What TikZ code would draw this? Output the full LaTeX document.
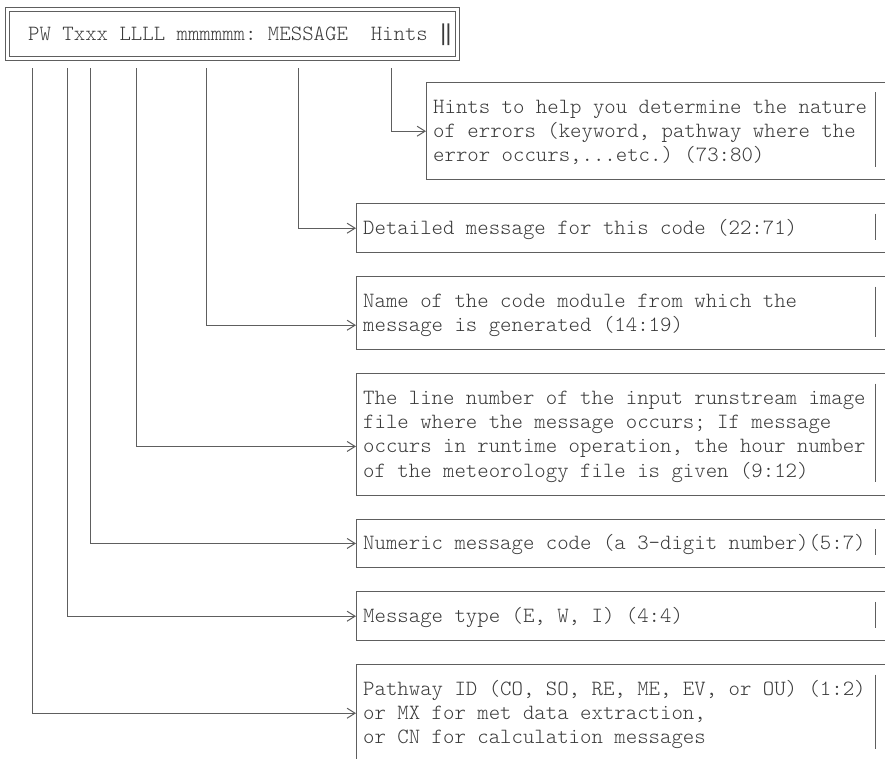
\documentclass[tikz,border=0pt]{standalone}
\usepackage{fontspec}
\setmonofont{lmmonolt10-regular.otf}
\newfontfamily\barfont{DejaVu Sans Mono}
\usetikzlibrary{arrows.meta}
\definecolor{rulegray}{HTML}{5E5E5E}
\definecolor{inkgray}{HTML}{3A3A3A}
\newcommand{\rowst}{\rule[-5.6pt]{0pt}{24.25pt}}

\begin{document}
\begin{tikzpicture}[x=1pt,y=-1pt,
		boxline/.style={draw=rulegray,line width=1pt},
		conn/.style={boxline,-{Straight Barb[length=8pt,width=10pt]}},
		mono/.style={font=\ttfamily\fontsize{21.75}{24.25}\selectfont,text=inkgray},
		descbox/.style={mono,anchor=north west,inner xsep=7pt,inner ysep=0pt,align=left,text width=505pt,
			execute at begin node={\spaceskip=0pt\xspaceskip=0pt}}]
	\useasboundingbox (0,0) rectangle (885,759);
	\clip (0,0) rectangle (885,759);
	
	\draw[boxline,double,double distance=3pt] (7.5,10) rectangle (457,58.25);
	\node[mono,anchor=base west,inner sep=0pt] (hdr) at (28,40.5) {PW Txxx LLLL mmmmmm: MESSAGE~~Hints~{\barfont ‖}};
	
	\node[descbox,text width=435pt,minimum height=97pt] (hint) at (426,82.5) {\rowst Hints to help you determine the nature\\\rowst of errors (keyword, pathway where the\\\rowst error occurs,...etc.) (73:80)};
	\node[descbox,minimum height=48.5pt] (msg) at (356,203.75) {\rowst Detailed message for this code (22:71)};
	\node[descbox,minimum height=72.75pt] (mod) at (356,276.5) {\rowst Name of the code module from which the\\\rowst message is generated (14:19)};
	\node[descbox,minimum height=121.25pt] (lineno) at (356,373.5) {\rowst The line number of the input runstream image\\\rowst file where the message occurs; If message\\\rowst occurs in runtime operation, the hour number\\\rowst of the meteorology file is given (9:12)};
	\node[descbox,minimum height=48.5pt] (code) at (356,519) {\rowst Numeric message code (a 3—digit number)(5:7)};
	\node[descbox,minimum height=48.5pt] (type) at (356,591.75) {\rowst Message type (E, W, I) (4:4)};
	\node[descbox,minimum height=97pt] (pathway) at (356,664.5) {\rowst Pathway ID (CO, SO, RE, ME, EV, or OU) (1:2)\\\rowst or MX for met data extraction,\\\rowst or CN for calculation messages};
	
	\draw[boxline] ([xshift=10pt]hint.north east) -- (hint.north west) -- (hint.south west) -- ([xshift=10pt]hint.south east);
	\draw[boxline] ([yshift=-10pt]hint.north east) -- ([yshift=13pt]hint.south east);
	\draw[boxline] ([xshift=10pt]msg.north east) -- (msg.north west) -- (msg.south west) -- ([xshift=10pt]msg.south east);
	\draw[boxline] ([yshift=-10pt]msg.north east) -- ([yshift=13pt]msg.south east);
	\draw[boxline] ([xshift=10pt]mod.north east) -- (mod.north west) -- (mod.south west) -- ([xshift=10pt]mod.south east);
	\draw[boxline] ([yshift=-10pt]mod.north east) -- ([yshift=13pt]mod.south east);
	\draw[boxline] ([xshift=10pt]lineno.north east) -- (lineno.north west) -- (lineno.south west) -- ([xshift=10pt]lineno.south east);
	\draw[boxline] ([yshift=-10pt]lineno.north east) -- ([yshift=13pt]lineno.south east);
	\draw[boxline] ([xshift=10pt]code.north east) -- (code.north west) -- (code.south west) -- ([xshift=10pt]code.south east);
	\draw[boxline] ([yshift=-10pt]code.north east) -- ([yshift=13pt]code.south east);
	\draw[boxline] ([xshift=10pt]type.north east) -- (type.north west) -- (type.south west) -- ([xshift=10pt]type.south east);
	\draw[boxline] ([yshift=-10pt]type.north east) -- ([yshift=13pt]type.south east);
	\draw[boxline] ([xshift=10pt]pathway.north east) -- (pathway.north west) -- (pathway.south west) -- ([xshift=10pt]pathway.south east);
	\draw[boxline] ([yshift=-10pt]pathway.north east) -- ([yshift=13pt]pathway.south east);
	
	\coordinate (tHints) at (391,68.5);
	\coordinate (tMsg) at (298,68.5);
	\coordinate (tMod) at (206,68.5);
	\coordinate (tLine) at (136,68.5);
	\coordinate (tCode) at (90,68.5);
	\coordinate (tType) at (67,68.5);
	\coordinate (tPath) at (32,68.5);
	
	\draw[conn] (tHints) |- (hint.west);
	\draw[conn] (tMsg) |- (msg.west);
	\draw[conn] (tMod) |- ([yshift=-12.125pt]mod.west);
	\draw[conn] (tLine) |- ([yshift=-12.125pt]lineno.west);
	\draw[conn] (tCode) |- (code.west);
	\draw[conn] (tType) |- (type.west);
	\draw[conn] (tPath) |- (pathway.west);
\end{tikzpicture}
\end{document}
